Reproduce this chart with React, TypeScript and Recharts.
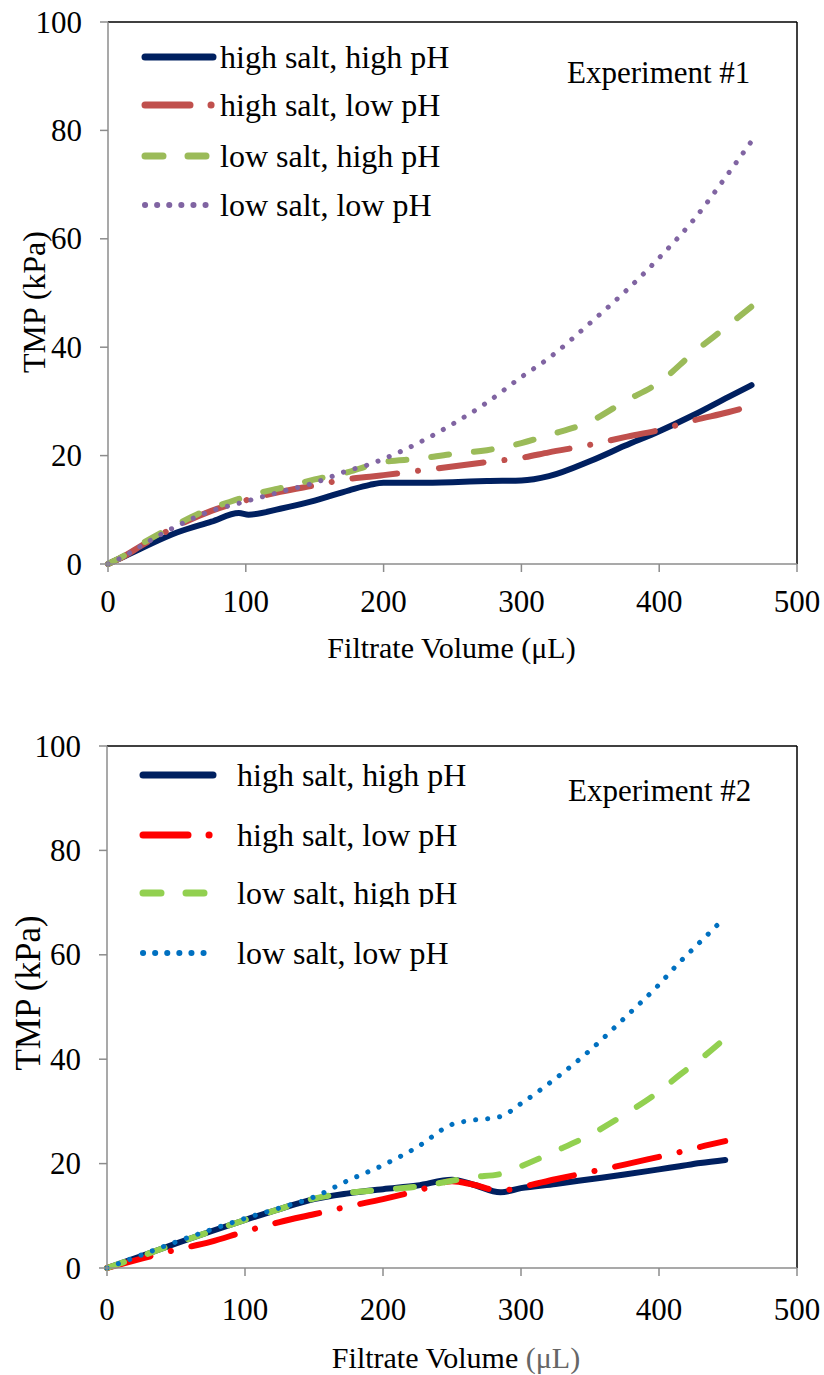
import React from 'react';
import { LineChart, Line, XAxis, YAxis, ReferenceLine } from 'recharts';

const FONT = '"Liberation Serif", "Times New Roman", serif';

// Experiment #1
const exp1Volume = [0, 10, 25, 50, 75, 95, 102, 125, 150, 175, 190, 200, 225, 250, 275, 300, 320, 350, 375, 400, 425, 450, 467];
const exp1HighSaltHighPh = [0, 1.2, 3, 5.8, 7.8, 9.4, 9.1, 10.2, 11.7, 13.6, 14.6, 15, 15, 15.1, 15.3, 15.4, 16.2, 19, 21.8, 24.5, 27.5, 30.8, 33];
const exp1HighSaltLowPh = [0, 1.2, 3.5, 7, 9.8, 11.4, 11.9, 13.3, 14.5, 15.7, 16.1, 16.4, 17.2, 18, 18.8, 19.6, 20.6, 22, 23.4, 24.7, 26.5, 28, 29.2];
const exp1LowSaltHighPh = [0, 1.3, 3.8, 7.3, 10.3, 12, 12.6, 14, 15.6, 17, 18.2, 18.8, 19.4, 20.3, 21, 22.3, 23.8, 26.3, 30, 33.5, 39, 44, 47.5];
const exp1LowSaltLowPh = [0, 1.2, 3.5, 7, 9.8, 11.2, 11.7, 13.3, 15, 17.3, 18.4, 19.4, 22.3, 25.8, 29.8, 34.5, 38, 44.5, 50.2, 56.5, 63.5, 72, 78];

// Experiment #2
const exp2Volume = [0, 25, 50, 75, 100, 125, 150, 175, 200, 225, 250, 265, 285, 300, 325, 350, 375, 400, 415, 430, 448];
const exp2HighSaltHighPh = [0, 2.3, 4.7, 7, 9.2, 11.3, 13.2, 14.3, 15.1, 15.8, 16.9, 16, 14.5, 15.3, 16.1, 17, 17.9, 18.9, 19.5, 20.1, 20.7];
const exp2HighSaltLowPh = [0, 1.8, 3.5, 5, 7, 8.8, 10.3, 11.8, 13.2, 14.8, 16.6, 16, 14.8, 15.5, 17, 18.4, 19.8, 21.3, 22.2, 23.2, 24.3];
const exp2LowSaltHighPh = [0, 2.3, 4.7, 7, 9.2, 11.3, 13.3, 14.4, 15, 15.6, 16.7, 17.4, 18, 19.5, 22.4, 25.5, 29.4, 33.8, 37, 40, 44];
const exp2LowSaltLowPh = [0, 2.5, 5, 7.3, 9.5, 11.5, 13.6, 16.8, 19.7, 23.2, 27.5, 28.3, 29, 31.5, 36.3, 41.7, 47.9, 54.3, 58.6, 62.5, 67.2];

const seriesNames = ['high salt, high pH', 'high salt, low pH', 'low salt, high pH', 'low salt, low pH'];
const xTicks = [0, 100, 200, 300, 400, 500];
const yTicks = [0, 20, 40, 60, 80, 100];

const exp1Styles = [
  { color: '#002060', dash: undefined, width: 6 },
  { color: '#C0504D', dash: '45 21 0.1 21', width: 6 },
  { color: '#9BBB59', dash: '18 25', width: 6 },
  { color: '#8064A2', dash: '0.1 12', width: 5 },
];
const exp2Styles = [
  { color: '#002060', dash: undefined, width: 6 },
  { color: '#FF0000', dash: '45 21 0.1 21', width: 6 },
  { color: '#92D050', dash: '18 25', width: 6 },
  { color: '#0070C0', dash: '0.1 12', width: 5 },
];

const keys = ['s0', 's1', 's2', 's3'];
const buildRows = (xs: number[], series: number[][]) =>
  xs.map((x, i) => ({ x, s0: series[0][i], s1: series[1][i], s2: series[2][i], s3: series[3][i] }));

const exp1Rows = buildRows(exp1Volume, [exp1HighSaltHighPh, exp1HighSaltLowPh, exp1LowSaltHighPh, exp1LowSaltLowPh]);
const exp2Rows = buildRows(exp2Volume, [exp2HighSaltHighPh, exp2HighSaltLowPh, exp2LowSaltHighPh, exp2LowSaltLowPh]);

const AXIS_GREY = '#8c8c8c';
const serif = { fontFamily: FONT };

const XTick = ({ x, y, payload }: any) => (
  <text x={x} y={y} dy="0.71em" textAnchor="middle" fontSize={31} fill="#000" style={serif}>{payload.value}</text>
);
const YTick = ({ x, y, payload }: any) => (
  <text x={x} y={y} dominantBaseline="central" textAnchor="end" fontSize={31} fill="#000" style={serif}>{payload.value}</text>
);

function Panel({ top, height, marginTop, xAxisHeight, leftW, rows, styles, cfg }: any) {
  const yTitle = (props: any) => {
    const vb = props.viewBox || { x: 0, y: marginTop, width: leftW, height: height - marginTop - xAxisHeight };
    const cx = vb.x + cfg.yTitleX;
    const cy = vb.y + vb.height / 2 + cfg.yTitleDy;
    return (
      <text x={cx} y={cy} transform={`rotate(-90 ${cx} ${cy})`} textAnchor="middle" dominantBaseline="central"
        fontSize={cfg.yTitleSize} fill="#000" style={serif}>TMP (kPa)</text>
    );
  };
  const xTitle = (props: any) => {
    const vb = props.viewBox || { x: leftW, y: height - xAxisHeight, width: 824 - leftW - 27, height: xAxisHeight };
    const cx = vb.x + vb.width / 2 + cfg.xTitleDx;
    const cy = vb.y + cfg.xTitleDy;
    return (
      <text x={cx} y={cy} textAnchor="middle" dominantBaseline="central" fontSize={30} fill="#000" style={serif}>
        Filtrate Volume <tspan fill={cfg.unitColor}>(μL)</tspan>
      </text>
    );
  };
  return (
    <div style={{ position: 'absolute', left: 0, top, width: 824, height, fontFamily: FONT }}>
      <LineChart width={824} height={height} data={rows} margin={{ top: marginTop, right: 27, left: 0, bottom: 0 }}
        style={serif}>
        <XAxis type="number" dataKey="x" domain={[0, 500]} ticks={xTicks} height={xAxisHeight}
          stroke={AXIS_GREY} strokeWidth={1.5} tickSize={8} tickMargin={cfg.xTickMargin}
          tick={<XTick />} label={{ content: xTitle }} />
        <YAxis type="number" domain={[0, 100]} ticks={yTicks} width={leftW}
          stroke={AXIS_GREY} strokeWidth={1.5} tickSize={8} tickMargin={18}
          tick={<YTick />} label={{ content: yTitle }} />
        <ReferenceLine y={100} stroke="#000" strokeWidth={1.5} />
        <ReferenceLine x={500} stroke="#000" strokeWidth={1.5} />
        {keys.map((k, i) => (
          <Line key={k} dataKey={k} type="monotone" stroke={styles[i].color} strokeWidth={styles[i].width}
            strokeDasharray={styles[i].dash} strokeLinecap="round" strokeLinejoin="round"
            dot={false} activeDot={false} isAnimationActive={false} />
        ))}
      </LineChart>
      <svg width={824} height={height} style={{ position: 'absolute', left: 0, top: 0, pointerEvents: 'none' }}>
        <defs>
          <clipPath id={`clip-${cfg.id}`}>
            <rect x={0} y={0} width={824} height={cfg.clipBottom} />
          </clipPath>
        </defs>
        {seriesNames.map((name, i) => {
          const y = cfg.legendY[i];
          return (
            <g key={name}>
              <line x1={cfg.sampleX1} x2={cfg.sampleX2} y1={y} y2={y} stroke={styles[i].color}
                strokeWidth={styles[i].width + 1} strokeDasharray={styles[i].dash} strokeLinecap="round" />
              <text x={cfg.textX} y={y} dominantBaseline="central" fontSize={32} fill="#000" style={serif}
                clipPath={i === 2 && cfg.clipBottom ? `url(#clip-${cfg.id})` : undefined}>{name}</text>
            </g>
          );
        })}
        <text x={cfg.expX} y={cfg.expY} dominantBaseline="central" fontSize={31} fill="#000" style={serif}>
          {cfg.expLabel}
        </text>
      </svg>
    </div>
  );
}

export default function App() {
  return (
    <div style={{ position: 'absolute', left: 0, top: 0, width: 824, height: 1375, background: '#fff' }}>
      <Panel top={0} height={680} marginTop={22} xAxisHeight={116} leftW={108} rows={exp1Rows} styles={exp1Styles}
        cfg={{
          id: 'e1', yTitleX: 34, yTitleDy: 9, yTitleSize: 32, xTitleDx: -1, xTitleDy: 83, xTickMargin: 18,
          unitColor: '#000', legendY: [57, 105, 156, 205], sampleX1: 145, sampleX2: 213, textX: 220,
          expX: 567, expY: 72, expLabel: 'Experiment #1', clipBottom: 0,
        }} />
      <Panel top={680} height={695} marginTop={66} xAxisHeight={107} leftW={107} rows={exp2Rows} styles={exp2Styles}
        cfg={{
          id: 'e2', yTitleX: 28, yTitleDy: -14, yTitleSize: 35, xTitleDx: 4, xTitleDy: 89, xTickMargin: 22,
          unitColor: '#666', legendY: [95, 155, 213, 273], sampleX1: 143, sampleX2: 213, textX: 237,
          expX: 568, expY: 110, expLabel: 'Experiment #2', clipBottom: 227,
        }} />
    </div>
  );
}
